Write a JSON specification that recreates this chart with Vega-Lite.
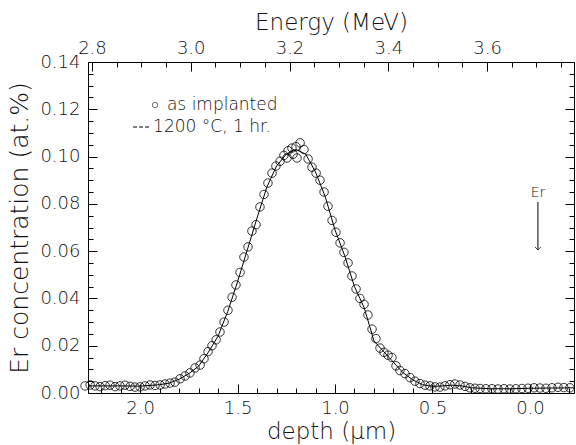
{
  "$schema": "https://vega.github.io/schema/vega-lite/v6.json",
  "width": 486,
  "height": 331,
  "autosize": {"type": "none"},
  "padding": {"left": 88, "top": 62, "right": 2, "bottom": 52},
  "background": "white",
  "config": {
    "view": {"stroke": "black", "strokeWidth": 1},
    "axis": {
      "domain": false, "grid": false, "tickColor": "black", "tickWidth": 1,
      "labelFont": "DejaVu Sans", "labelFontWeight": 200, "labelFontSize": 18, "labelColor": "#111",
      "titleFont": "DejaVu Sans", "titleFontWeight": 200, "titleFontSize": 23, "titleColor": "#111",
      "labelFlush": false, "labelOverlap": false
    }
  },
  "datasets": {
    "circles": [
      {"d": 2.282, "c": 0.0030}, {"d": 2.256, "c": 0.0034}, {"d": 2.231, "c": 0.0030}, {"d": 2.205, "c": 0.0027},
      {"d": 2.179, "c": 0.0031}, {"d": 2.154, "c": 0.0033}, {"d": 2.128, "c": 0.0027}, {"d": 2.103, "c": 0.0030},
      {"d": 2.077, "c": 0.0033}, {"d": 2.051, "c": 0.0028}, {"d": 2.026, "c": 0.0025}, {"d": 2.000, "c": 0.0026},
      {"d": 1.974, "c": 0.0030}, {"d": 1.949, "c": 0.0034}, {"d": 1.923, "c": 0.0032}, {"d": 1.897, "c": 0.0034},
      {"d": 1.872, "c": 0.0038}, {"d": 1.846, "c": 0.0042}, {"d": 1.821, "c": 0.0046}, {"d": 1.795, "c": 0.0060},
      {"d": 1.769, "c": 0.0072}, {"d": 1.744, "c": 0.0085}, {"d": 1.718, "c": 0.0106}, {"d": 1.692, "c": 0.0118},
      {"d": 1.672, "c": 0.0145}, {"d": 1.651, "c": 0.0175}, {"d": 1.631, "c": 0.0200}, {"d": 1.610, "c": 0.0225},
      {"d": 1.590, "c": 0.0258}, {"d": 1.569, "c": 0.0300}, {"d": 1.549, "c": 0.0350}, {"d": 1.528, "c": 0.0405},
      {"d": 1.508, "c": 0.0457}, {"d": 1.487, "c": 0.0510}, {"d": 1.467, "c": 0.0575}, {"d": 1.446, "c": 0.0618},
      {"d": 1.426, "c": 0.0685}, {"d": 1.405, "c": 0.0712}, {"d": 1.385, "c": 0.0787}, {"d": 1.364, "c": 0.0840},
      {"d": 1.344, "c": 0.0888}, {"d": 1.323, "c": 0.0930}, {"d": 1.303, "c": 0.0960}, {"d": 1.282, "c": 0.0980},
      {"d": 1.262, "c": 0.1005}, {"d": 1.241, "c": 0.1025}, {"d": 1.221, "c": 0.1036}, {"d": 1.200, "c": 0.1042},
      {"d": 1.179, "c": 0.1058}, {"d": 1.159, "c": 0.1030}, {"d": 1.138, "c": 0.0990}, {"d": 1.118, "c": 0.0955},
      {"d": 1.097, "c": 0.0930}, {"d": 1.077, "c": 0.0900}, {"d": 1.056, "c": 0.0850}, {"d": 1.036, "c": 0.0790},
      {"d": 1.015, "c": 0.0730}, {"d": 0.995, "c": 0.0680}, {"d": 0.974, "c": 0.0635}, {"d": 0.954, "c": 0.0595},
      {"d": 0.933, "c": 0.0550}, {"d": 0.913, "c": 0.0495}, {"d": 0.892, "c": 0.0440}, {"d": 0.872, "c": 0.0400},
      {"d": 0.851, "c": 0.0375}, {"d": 0.831, "c": 0.0330}, {"d": 0.810, "c": 0.0270}, {"d": 0.790, "c": 0.0230},
      {"d": 0.769, "c": 0.0190}, {"d": 0.749, "c": 0.0172}, {"d": 0.728, "c": 0.0160}, {"d": 0.708, "c": 0.0150},
      {"d": 0.687, "c": 0.0115}, {"d": 0.667, "c": 0.0095}, {"d": 0.641, "c": 0.0082}, {"d": 0.615, "c": 0.0065},
      {"d": 0.590, "c": 0.0050}, {"d": 0.564, "c": 0.0040}, {"d": 0.538, "c": 0.0033}, {"d": 0.513, "c": 0.0030},
      {"d": 0.487, "c": 0.0026}, {"d": 0.462, "c": 0.0025}, {"d": 0.436, "c": 0.0030}, {"d": 0.410, "c": 0.0035},
      {"d": 0.385, "c": 0.0038}, {"d": 0.359, "c": 0.0034}, {"d": 0.333, "c": 0.0028}, {"d": 0.308, "c": 0.0022},
      {"d": 0.282, "c": 0.0020}, {"d": 0.256, "c": 0.0019}, {"d": 0.226, "c": 0.0018}, {"d": 0.195, "c": 0.0018},
      {"d": 0.164, "c": 0.0017}, {"d": 0.133, "c": 0.0018}, {"d": 0.103, "c": 0.0017}, {"d": 0.072, "c": 0.0018},
      {"d": 0.041, "c": 0.0019}, {"d": 0.010, "c": 0.0020}, {"d": -0.021, "c": 0.0022}, {"d": -0.051, "c": 0.0021},
      {"d": -0.082, "c": 0.0020}, {"d": -0.113, "c": 0.0022}, {"d": -0.144, "c": 0.0024}, {"d": -0.174, "c": 0.0023},
      {"d": -0.205, "c": 0.0022},
      {"d": 1.246, "c": 0.0994}, {"d": 1.195, "c": 0.0994}, {"d": 1.215, "c": 0.1010}
    ],
    "line": [
      {"d": 2.267, "c": 0.0030}, {"d": 2.2, "c": 0.0030}, {"d": 2.1, "c": 0.0030}, {"d": 2.0, "c": 0.0029},
      {"d": 1.95, "c": 0.0032}, {"d": 1.90, "c": 0.0035}, {"d": 1.85, "c": 0.0042}, {"d": 1.80, "c": 0.0058},
      {"d": 1.75, "c": 0.0082}, {"d": 1.70, "c": 0.0113}, {"d": 1.65, "c": 0.0172}, {"d": 1.60, "c": 0.0240},
      {"d": 1.55, "c": 0.0345}, {"d": 1.50, "c": 0.0470}, {"d": 1.45, "c": 0.0605}, {"d": 1.40, "c": 0.0740},
      {"d": 1.35, "c": 0.0870}, {"d": 1.30, "c": 0.0960}, {"d": 1.25, "c": 0.1010}, {"d": 1.20, "c": 0.1030},
      {"d": 1.15, "c": 0.1010}, {"d": 1.10, "c": 0.0935}, {"d": 1.05, "c": 0.0830}, {"d": 1.00, "c": 0.0690},
      {"d": 0.95, "c": 0.0580}, {"d": 0.90, "c": 0.0450}, {"d": 0.85, "c": 0.0360}, {"d": 0.80, "c": 0.0220},
      {"d": 0.75, "c": 0.0175}, {"d": 0.70, "c": 0.0130}, {"d": 0.65, "c": 0.0085}, {"d": 0.60, "c": 0.0055},
      {"d": 0.55, "c": 0.0035}, {"d": 0.50, "c": 0.0028}, {"d": 0.45, "c": 0.0030}, {"d": 0.40, "c": 0.0033},
      {"d": 0.35, "c": 0.0030}, {"d": 0.30, "c": 0.0022}, {"d": 0.20, "c": 0.0018}, {"d": 0.10, "c": 0.0018},
      {"d": 0.0, "c": 0.0020}, {"d": -0.1, "c": 0.0021}, {"d": -0.226, "c": 0.0022}
    ],
    "energy": [{"e": 2.8}, {"e": 3.6}],
    "one": [{}]
  },
  "resolve": {"scale": {"x": "independent"}, "axis": {"x": "independent", "y": "independent"}},
  "layer": [
    {
      "data": {"name": "line"},
      "mark": {"type": "line", "color": "black", "strokeWidth": 1},
      "encoding": {
        "x": {"field": "d", "type": "quantitative",
          "scale": {"domain": [-0.226, 2.267], "reverse": true, "nice": false, "zero": false},
          "axis": {"orient": "bottom", "values": [2, 1.5, 1, 0.5, 0], "format": ".1f", "tickSize": -9, "labelPadding": 15, "title": "depth (μm)", "titlePadding": 3}},
        "y": {"field": "c", "type": "quantitative",
          "scale": {"domain": [0, 0.14], "nice": false, "zero": false},
          "axis": {"orient": "left", "values": [0, 0.02, 0.04, 0.06, 0.08, 0.1, 0.12, 0.14], "format": ".2f", "tickSize": -9, "labelPadding": 17, "title": "Er concentration (at.%)", "titleFontSize": 25, "titlePadding": 7}}
      }
    },
    {
      "data": {"name": "circles"},
      "mark": {"type": "point", "shape": "circle", "filled": false, "stroke": "black", "strokeWidth": 0.8, "size": 72, "opacity": 1},
      "encoding": {
        "x": {"field": "d", "type": "quantitative",
          "scale": {"domain": [-0.226, 2.267], "reverse": true, "nice": false, "zero": false},
          "axis": {"orient": "bottom", "values": [-0.2, -0.1, 0.1, 0.2, 0.3, 0.4, 0.6, 0.7, 0.8, 0.9, 1.1, 1.2, 1.3, 1.4, 1.6, 1.7, 1.8, 1.9, 2.1, 2.2], "labels": false, "tickSize": -5, "title": null}},
        "y": {"field": "c", "type": "quantitative",
          "scale": {"domain": [0, 0.14], "nice": false, "zero": false},
          "axis": {"orient": "left", "values": [0.005, 0.01, 0.015, 0.025, 0.03, 0.035, 0.045, 0.05, 0.055, 0.065, 0.07, 0.075, 0.085, 0.09, 0.095, 0.105, 0.11, 0.115, 0.125, 0.13, 0.135], "labels": false, "tickSize": -5, "title": null}}
      }
    },
    {
      "data": {"name": "line"},
      "mark": {"type": "point", "opacity": 0},
      "encoding": {
        "x": {"field": "d", "type": "quantitative",
          "scale": {"domain": [-0.226, 2.267], "reverse": true, "nice": false, "zero": false}, "axis": null},
        "y": {"field": "c", "type": "quantitative",
          "scale": {"domain": [0, 0.14], "nice": false, "zero": false},
          "axis": {"orient": "right", "values": [0, 0.02, 0.04, 0.06, 0.08, 0.1, 0.12, 0.14], "labels": false, "tickSize": -9, "title": null}}
      }
    },
    {
      "data": {"name": "line"},
      "mark": {"type": "point", "opacity": 0},
      "encoding": {
        "x": {"field": "d", "type": "quantitative",
          "scale": {"domain": [-0.226, 2.267], "reverse": true, "nice": false, "zero": false}, "axis": null},
        "y": {"field": "c", "type": "quantitative",
          "scale": {"domain": [0, 0.14], "nice": false, "zero": false},
          "axis": {"orient": "right", "values": [0.005, 0.01, 0.015, 0.025, 0.03, 0.035, 0.045, 0.05, 0.055, 0.065, 0.07, 0.075, 0.085, 0.09, 0.095, 0.105, 0.11, 0.115, 0.125, 0.13, 0.135], "labels": false, "tickSize": -5, "title": null}}
      }
    },
    {
      "data": {"name": "energy"},
      "mark": {"type": "point", "opacity": 0},
      "encoding": {
        "x": {"field": "e", "type": "quantitative",
          "scale": {"domain": [2.792, 3.776], "nice": false, "zero": false},
          "axis": {"orient": "top", "values": [2.8, 3.0, 3.2, 3.4, 3.6], "format": ".1f", "tickSize": -9, "labelPadding": 14, "title": "Energy (MeV)", "titlePadding": 5}}
      }
    },
    {
      "data": {"name": "energy"},
      "mark": {"type": "point", "opacity": 0},
      "encoding": {
        "x": {"field": "e", "type": "quantitative",
          "scale": {"domain": [2.792, 3.776], "nice": false, "zero": false},
          "axis": {"orient": "top", "values": [2.85, 2.9, 2.95, 3.05, 3.1, 3.15, 3.25, 3.3, 3.35, 3.45, 3.5, 3.55, 3.65, 3.7, 3.75], "labels": false, "tickSize": -5, "title": null}}
      }
    },
    {
      "data": {"name": "one"},
      "mark": {"type": "point", "shape": "circle", "filled": false, "stroke": "black", "strokeWidth": 0.8, "size": 30},
      "encoding": {
        "x": {"datum": 1.923, "type": "quantitative", "scale": {"domain": [-0.226, 2.267], "reverse": true, "nice": false, "zero": false}, "axis": null},
        "y": {"datum": 0.1218, "type": "quantitative", "scale": {"domain": [0, 0.14], "nice": false, "zero": false}, "axis": null}
      }
    },
    {
      "data": {"name": "one"},
      "mark": {"type": "text", "text": "as implanted", "align": "left", "baseline": "middle", "font": "DejaVu Sans", "fontWeight": 200, "fontSize": 17, "fill": "#111"},
      "encoding": {
        "x": {"datum": 1.862, "type": "quantitative", "scale": {"domain": [-0.226, 2.267], "reverse": true, "nice": false, "zero": false}, "axis": null},
        "y": {"datum": 0.1218, "type": "quantitative", "scale": {"domain": [0, 0.14], "nice": false, "zero": false}, "axis": null}
      }
    },
    {
      "data": {"name": "one"},
      "mark": {"type": "rule", "color": "black", "strokeWidth": 1, "strokeDash": [4, 2]},
      "encoding": {
        "x": {"datum": 2.036, "type": "quantitative", "scale": {"domain": [-0.226, 2.267], "reverse": true, "nice": false, "zero": false}, "axis": null},
        "x2": {"datum": 1.949},
        "y": {"datum": 0.1125, "type": "quantitative", "scale": {"domain": [0, 0.14], "nice": false, "zero": false}, "axis": null}
      }
    },
    {
      "data": {"name": "one"},
      "mark": {"type": "text", "text": "1200 °C, 1 hr.", "align": "left", "baseline": "middle", "font": "DejaVu Sans", "fontWeight": 200, "fontSize": 17, "fill": "#111"},
      "encoding": {
        "x": {"datum": 1.933, "type": "quantitative", "scale": {"domain": [-0.226, 2.267], "reverse": true, "nice": false, "zero": false}, "axis": null},
        "y": {"datum": 0.1125, "type": "quantitative", "scale": {"domain": [0, 0.14], "nice": false, "zero": false}, "axis": null}
      }
    },
    {
      "data": {"name": "one"},
      "mark": {"type": "text", "text": "Er", "align": "center", "baseline": "middle", "font": "DejaVu Sans", "fontWeight": 200, "fontSize": 14, "fill": "#111"},
      "encoding": {
        "x": {"datum": -0.041, "type": "quantitative", "scale": {"domain": [-0.226, 2.267], "reverse": true, "nice": false, "zero": false}, "axis": null},
        "y": {"datum": 0.0846, "type": "quantitative", "scale": {"domain": [0, 0.14], "nice": false, "zero": false}, "axis": null}
      }
    },
    {
      "data": {"name": "one"},
      "mark": {"type": "rule", "color": "black", "strokeWidth": 1},
      "encoding": {
        "x": {"datum": -0.041, "type": "quantitative", "scale": {"domain": [-0.226, 2.267], "reverse": true, "nice": false, "zero": false}, "axis": null},
        "y": {"datum": 0.0808, "type": "quantitative", "scale": {"domain": [0, 0.14], "nice": false, "zero": false}, "axis": null},
        "y2": {"datum": 0.0605}
      }
    },
    {
      "data": {"name": "one"},
      "mark": {"type": "point", "shape": "M-1,-1L0,0L1,-1", "filled": false, "stroke": "black", "strokeWidth": 1, "size": 36},
      "encoding": {
        "x": {"datum": -0.041, "type": "quantitative", "scale": {"domain": [-0.226, 2.267], "reverse": true, "nice": false, "zero": false}, "axis": null},
        "y": {"datum": 0.0605, "type": "quantitative", "scale": {"domain": [0, 0.14], "nice": false, "zero": false}, "axis": null}
      }
    }
  ]
}
